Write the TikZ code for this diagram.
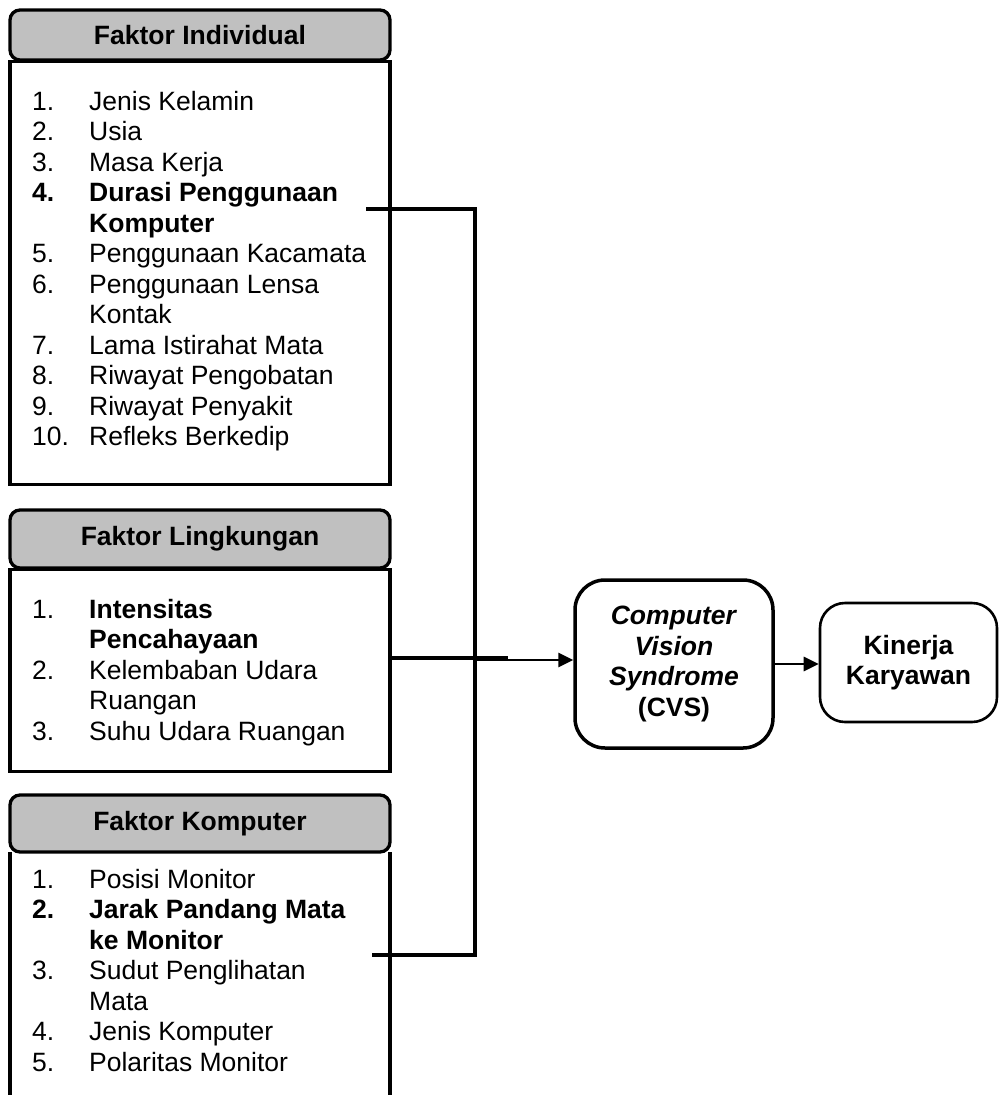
\documentclass[tikz,border=0pt]{standalone}
\usepackage{fontspec}
\setmainfont{Liberation Sans}
\usetikzlibrary{arrows.meta}
\definecolor{hdrgray}{RGB}{192,192,192}
\begin{document}
\begin{tikzpicture}[x=1pt,y=-1pt,
  hdrbox/.style={draw, line width=3.3pt, fill=hdrgray, rounded corners=10pt,
    minimum width=380pt, inner sep=0pt, font=\fontsize{26.5}{30.5}\selectfont\bfseries},
  bodybox/.style={draw, line width=3.3pt, fill=white, minimum width=380pt, inner sep=0pt, anchor=north},
  listnode/.style={anchor=north west, inner sep=0pt, font=\fontsize{26.5}{30.5}\selectfont},
  conn/.style={line width=3.3pt},
  arr/.style={line width=2.8pt, -{Triangle[length=15pt,width=14pt]}},
  ]
\useasboundingbox (0,0) rectangle (999,1095);
\fill[white] (0,0) rectangle (999,1095);

% ---- Faktor Individual
\node[bodybox, minimum height=423pt] (b1) at (200,60) {};
\node[hdrbox, minimum height=50pt] (h1) at (200,35) {Faktor Individual};
\node[listnode] (l1) at (32,88.65) {%
\begin{tabular}{@{}p{57pt}@{}l@{}}
1. & Jenis Kelamin\\
2. & Usia\\
3. & Masa Kerja\\
\textbf{4.} & \textbf{Durasi Penggunaan}\\
 & \textbf{Komputer}\\
5. & Penggunaan Kacamata\\
6. & Penggunaan Lensa\\
 & Kontak\\
7. & Lama Istirahat Mata\\
8. & Riwayat Pengobatan\\
9. & Riwayat Penyakit\\
10. & Refleks Berkedip
\end{tabular}};

% ---- Faktor Lingkungan
\node[bodybox, minimum height=202pt] (b2) at (200,568) {};
\node[hdrbox, minimum height=58pt] (h2) at (200,539) {Faktor Lingkungan};
\node[listnode] (l2) at (32,596.65) {%
\begin{tabular}{@{}p{57pt}@{}l@{}}
1. & \textbf{Intensitas}\\
 & \textbf{Pencahayaan}\\
2. & Kelembaban Udara\\
 & Ruangan\\
3. & Suhu Udara Ruangan
\end{tabular}};

% ---- Faktor Komputer (open at the bottom)
\draw[line width=3.3pt] (10,852) -- (10,1100);
\draw[line width=3.3pt] (390,852) -- (390,1100);
\node[hdrbox, minimum height=57pt] (h3) at (200,823.5) {Faktor Komputer};
\node[listnode] (l3) at (32,866.65) {%
\begin{tabular}{@{}p{57pt}@{}l@{}}
1. & Posisi Monitor\\
\textbf{2.} & \textbf{Jarak Pandang Mata}\\
 & \textbf{ke Monitor}\\
3. & Sudut Penglihatan\\
 & Mata\\
4. & Jenis Komputer\\
5. & Polaritas Monitor
\end{tabular}};

% ---- CVS and Kinerja
\node[draw, line width=3.5pt, rounded corners=30pt, minimum width=198pt, minimum height=168pt,
  align=center, inner sep=0pt, font=\fontsize{26.5}{30.5}\selectfont\bfseries] (cvs) at (674,664)
  {\textit{Computer}\\ \textit{Vision}\\ \textit{Syndrome}\\ (CVS)};
\node[draw, line width=2.6pt, rounded corners=25pt, minimum width=177pt, minimum height=119pt,
  align=center, inner sep=0pt, font=\fontsize{26.5}{30.5}\selectfont\bfseries] (kin) at (908.5,662.5)
  {Kinerja\\ Karyawan};

% ---- connectors
\coordinate (i1) at (366,209);
\coordinate (jt) at (475,209);
\coordinate (jb) at (475,955);
\coordinate (k1) at (372,955);
\draw[conn, line join=miter] (i1) -- (jt) -- (jb) -- (k1);

\coordinate (e2) at (390,658);
\coordinate (m2) at (508,658);
\draw[line width=4pt] (e2) -- (m2);
\coordinate (jm) at (476,660);
\draw[arr] (jm) -- (jm -| cvs.west);

\draw[arr] (cvs.east |- 0,664) -- (kin.west |- 0,664);
\end{tikzpicture}
\end{document}
